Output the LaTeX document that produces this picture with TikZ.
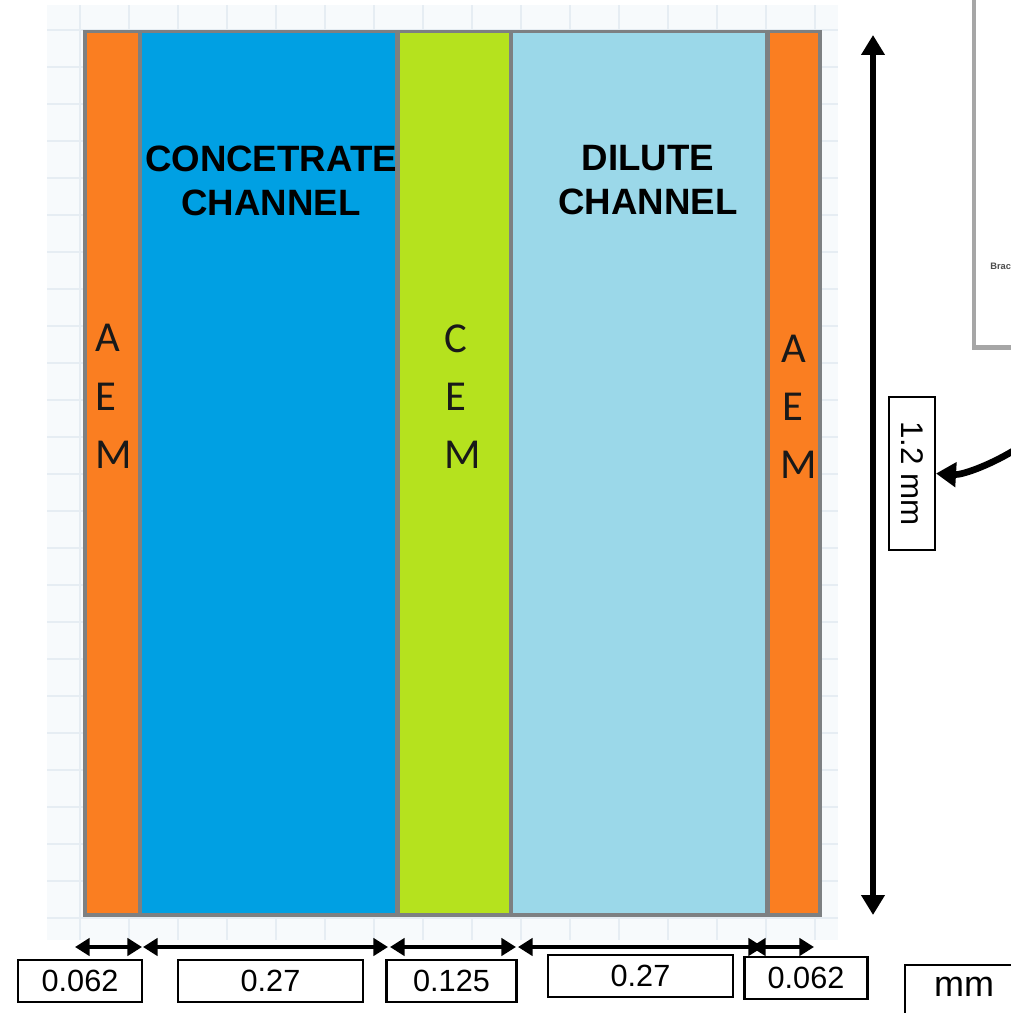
\documentclass[tikz,border=0pt]{standalone}
\usepackage{fontspec}
\usetikzlibrary{arrows.meta}
\setmainfont{Liberation Sans}
\newfontfamily\calibf{Carlito}
\definecolor{aemc}{RGB}{250,126,33}
\definecolor{conc}{RGB}{0,160,227}
\definecolor{cemc}{RGB}{181,226,30}
\definecolor{dilc}{RGB}{155,216,233}
\definecolor{sepc}{RGB}{125,128,130}
\definecolor{gridbg}{RGB}{247,250,252}
\definecolor{gridln}{RGB}{230,237,243}
\begin{document}
\begin{tikzpicture}[x=0.75pt,y=-0.75pt,
  memletter/.style={font=\calibf\fontsize{32}{32}\selectfont, anchor=base west, inner sep=0pt, text=black!90},
  chanlabel/.style={font=\bfseries\fontsize{27.5}{33}\selectfont, align=center, inner sep=0pt},
  valbox/.style={draw=black, line width=1.8pt, minimum height=31.5pt, inner sep=0pt, font=\fontsize{23}{23}\selectfont},
  dimarrow/.style={line width=3.6pt, {Triangle[length=11pt,width=13pt]}-{Triangle[length=11pt,width=13pt]}},
  heightarrow/.style={line width=4.2pt, {Triangle[length=15pt,width=17pt]}-{Triangle[length=15pt,width=17pt]}},
  curvearrow/.style={line width=5pt, -{Triangle[length=15pt,width=18pt]}},
  gridline/.style={draw=gridln, line width=2.2pt}
]
\useasboundingbox (0,0) rectangle (1010,1013);
% grid background
\fill[gridbg] (47,5) rectangle (838,940);
\foreach \k in {0,...,24} \draw[gridline] (47,30+37*\k) -- (838,30+37*\k);
\foreach \k in {0,...,15} \draw[gridline] (80+49*\k,5) -- (80+49*\k,940);
% main cell
\fill[sepc] (83,30) rectangle (822,917);
\fill[aemc] (87,33) rectangle (138,913);
\fill[conc] (142,33) rectangle (395,913);
\fill[cemc] (400,33) rectangle (509,913);
\fill[dilc] (513,33) rectangle (765,913);
\fill[aemc] (770,33) rectangle (818,913);
% channel labels
\node[chanlabel] (conclab) at (271,181) {CONCETRATE\\CHANNEL};
\node[chanlabel] (dillab) at (648,180) {DILUTE\\CHANNEL};
% membrane letters
\node[memletter] (la) at (95,351) {A};
\node[memletter] (le) at (95,410) {E};
\node[memletter] (lm) at (95,468) {M};
\node[memletter] (cc) at (444,352) {C};
\node[memletter] (ce) at (445,410) {E};
\node[memletter] (cm) at (444,468) {M};
\node[memletter] (ra) at (781,362) {A};
\node[memletter] (re) at (782,420) {E};
\node[memletter] (rm) at (780,478) {M};
% paper box at top right
\fill[black!35] (972,-5) rectangle (1015,350);
\fill[white] (976,-5) rectangle (1015,345);
\node[font=\bfseries\fontsize{7}{7}\selectfont, text=black!70, anchor=west, inner sep=0pt] (brac) at (990,266) {Brac};
% height arrow and label
\coordinate (vt) at (873,35);
\coordinate (vb) at (873,915);
\draw[heightarrow] (vt) -- (vb);
\node[draw=black, line width=1.5pt, rotate=-90, minimum width=114.75pt, minimum height=34.5pt, inner sep=0pt, font=\fontsize{23.5}{23.5}\selectfont] (dimbox) at (912,473.5) {1.2 mm};
\coordinate (cs) at (1013,451);
\draw[curvearrow] (cs) .. controls (988,466) and (962,475) .. (dimbox.north);
% width arrows
\coordinate (a1l) at (75,947);  \coordinate (a1r) at (142,947);
\coordinate (a2l) at (143,947); \coordinate (a2r) at (388,947);
\coordinate (a3l) at (390,947); \coordinate (a3r) at (516,947);
\coordinate (a4l) at (518,947); \coordinate (a4r) at (763,947);
\coordinate (a5l) at (751,947); \coordinate (a5r) at (814,947);
\draw[dimarrow] (a1l) -- (a1r);
\draw[dimarrow] (a2l) -- (a2r);
\draw[dimarrow] (a3l) -- (a3r);
\draw[dimarrow] (a4l) -- (a4r);
\draw[dimarrow] (a5l) -- (a5r);
% value boxes
\node[valbox, minimum width=93pt] (v1) at (80,981) {0.062};
\node[valbox, minimum width=139pt] (v2) at (270.5,981) {0.27};
\node[valbox, minimum width=97.5pt] (v3) at (451.5,981) {0.125};
\node[valbox, minimum width=139pt] (v4) at (640.5,976) {0.27};
\node[valbox, minimum width=92.5pt] (v5) at (806,978) {0.062};
\draw[black, line width=1.5pt] (905,1015) -- (905,965) -- (1015,965);
\node[font=\fontsize{27}{27}\selectfont, inner sep=0pt] (mm) at (964,987) {mm};
\end{tikzpicture}
\end{document}
